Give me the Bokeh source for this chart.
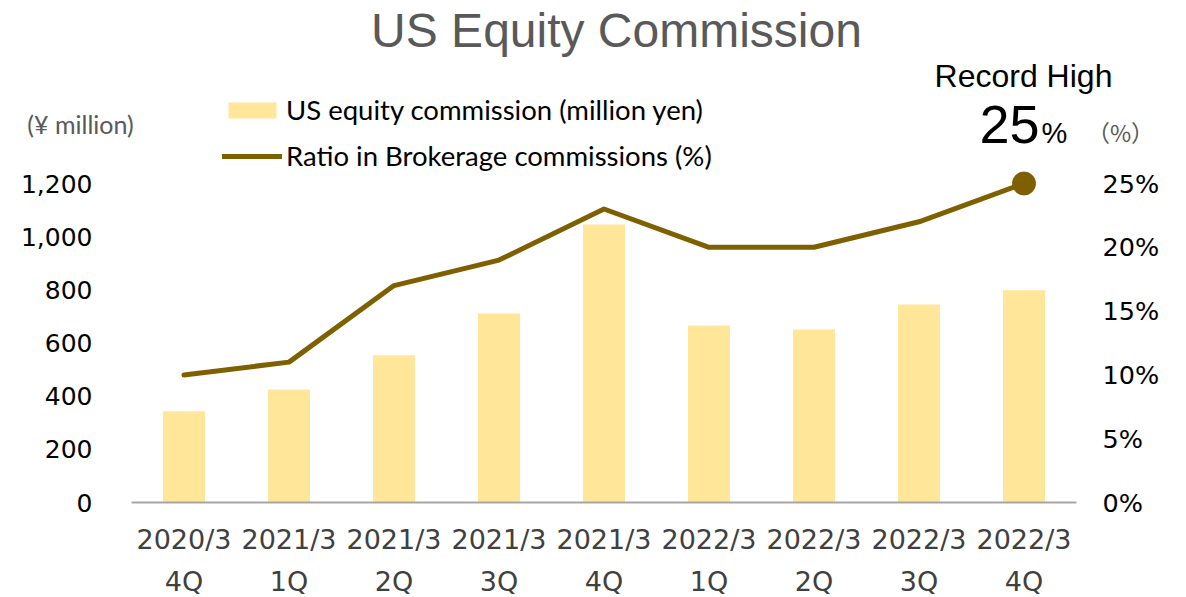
from bokeh.plotting import figure
from bokeh.models import (Range1d, LinearAxis, FixedTicker, NumeralTickFormatter,
                          PrintfTickFormatter, Label, ColumnDataSource,
                          Legend, LegendItem)
from bokeh.embed import file_html
from bokeh.resources import INLINE

# ---------------- data ----------------
fiscal = ["2020/3", "2021/3", "2021/3", "2021/3", "2021/3",
          "2022/3", "2022/3", "2022/3", "2022/3"]
quarter = ["4Q", "1Q", "2Q", "3Q", "4Q", "1Q", "2Q", "3Q", "4Q"]
commission = [343, 425, 554, 711, 1046, 666, 651, 745, 798]      # million yen
ratio = [10, 11, 17, 19, 23, 20, 20, 22, 25]                      # %
left_ticks = [0, 200, 400, 600, 800, 1000, 1200]
right_ticks = [0, 5, 10, 15, 20, 25]

idx = list(range(len(fiscal)))

BAR = "#FFE699"
LINE = "#7F6000"

W, H = 1186, 597
# plot area in page pixels: x 131..1076, baseline y 502, 1200 / 25% at y 183
X0, X1, YB, YT = 131, 1076, 502, 183
step = (X1 - X0) / len(idx)
ppu_l = (YB - YT) / 1200.0
ppu_r = (YB - YT) / 25.0

x_start = -0.5 - X0 / step
x_end = -0.5 + (W - X0) / step

p = figure(width=W, height=H,
           x_range=Range1d(x_start, x_end),
           y_range=Range1d(-(H - YB) / ppu_l, YB / ppu_l),
           output_backend="svg", toolbar_location=None,
           min_border_left=0, min_border_right=0,
           min_border_top=0, min_border_bottom=0)
p.extra_y_ranges = {"pct": Range1d(-(H - YB) / ppu_r, YB / ppu_r)}
p.outline_line_color = None
p.grid.grid_line_color = None
p.background_fill_color = "white"
p.border_fill_color = "white"
p.xaxis.visible = False
p.yaxis.visible = False

src = ColumnDataSource(dict(x=idx, c=commission, r=ratio))

bars = p.vbar(x="x", top="c", width=0.4, source=src, color=BAR, line_color=None)
line = p.line(x="x", y="r", source=src, y_range_name="pct", line_color=LINE,
              line_width=5, line_cap="round", line_join="round")
p.scatter(x=[idx[-1]], y=[ratio[-1]], y_range_name="pct", size=23,
          color=LINE, line_color=LINE)


def style_axis(ax, size="25px", color="#000000", standoff=10):
    ax.axis_line_color = None
    ax.major_tick_line_color = None
    ax.minor_tick_line_color = None
    ax.major_label_text_font = "DejaVu Sans"
    ax.major_label_text_font_size = size
    ax.major_label_text_color = color
    ax.major_label_standoff = standoff


# left axis
la = LinearAxis(ticker=FixedTicker(ticks=left_ticks),
                formatter=NumeralTickFormatter(format="0,0"),
                fixed_location=-0.5)
style_axis(la, standoff=33)
p.add_layout(la, "left")

# right axis
ra = LinearAxis(y_range_name="pct", ticker=FixedTicker(ticks=right_ticks),
                formatter=PrintfTickFormatter(format="%d%%"),
                fixed_location=len(idx) - 0.5)
style_axis(ra, size="25.5px", standoff=20)
p.add_layout(ra, "right")

# bottom axis: fiscal year row (with baseline)
xa = LinearAxis(ticker=FixedTicker(ticks=idx), fixed_location=0,
                bounds=(-0.5, len(idx) - 0.5),
                major_label_overrides={i: f for i, f in zip(idx, fiscal)})
style_axis(xa, size="27px", color="#404040", standoff=15)
xa.axis_line_color = "#A6A6A6"
xa.axis_line_width = 2
p.add_layout(xa, "below")

# bottom axis: quarter row
qa = LinearAxis(ticker=FixedTicker(ticks=idx), fixed_location=0,
                major_label_overrides={i: q for i, q in zip(idx, quarter)})
style_axis(qa, size="27px", color="#404040", standoff=57)
p.add_layout(qa, "below")

# legend
legend = Legend(items=[LegendItem(label="US equity commission (million yen)", renderers=[bars]),
                       LegendItem(label="Ratio in Brokerage commissions (%)", renderers=[line])],
                location=(222, H - 172), orientation="vertical",
                label_text_font="Lato", label_text_font_size="27.5px",
                label_text_color="#000000",
                glyph_width=60, glyph_height=20, label_height=20,
                label_standoff=4, spacing=13, padding=0, margin=0,
                border_line_color=None, background_fill_alpha=0)
p.add_layout(legend, "center")


def lab(text, px, py, size, color="#000000", font="Liberation Sans",
        align="center", baseline="middle"):
    p.add_layout(Label(x=px, y=H - py, x_units="screen", y_units="screen", text=text,
                       text_font=font, text_font_size=size, text_color=color,
                       text_align=align, text_baseline=baseline))


lab("US Equity Commission", 616, 30, "48px", "#595959")
lab("Record High", 1023, 75, "32px")
lab("25", 1039, 124, "54px", align="right")
lab("%", 1041, 132, "29px", align="left")
lab("（%）", 1120, 131, "23px", "#595959", font="Noto Sans CJK JP")
lab("(¥ million)", 80, 123, "25px", "#595959", font="Lato")

open("out.html", "w").write(file_html(p, INLINE))
